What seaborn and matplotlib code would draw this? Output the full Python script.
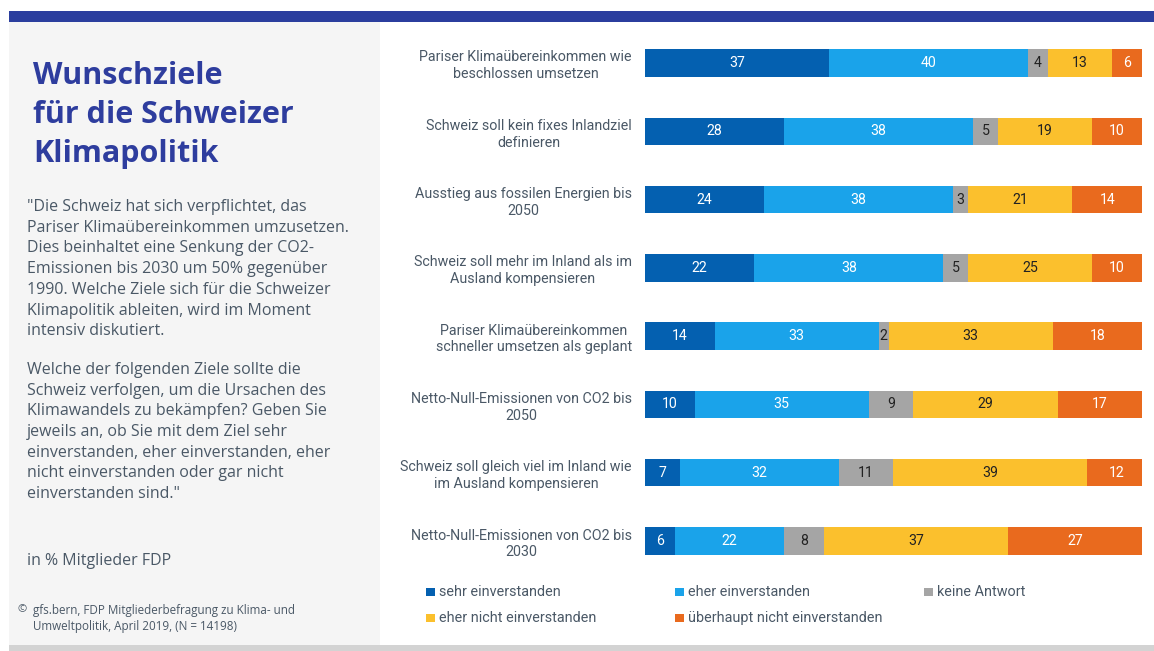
import matplotlib
matplotlib.use("Agg")
import matplotlib.pyplot as plt
from matplotlib.patches import Rectangle
import seaborn as sns
import pandas as pd
import numpy as np

categories = [
    "Pariser Klimaübereinkommen wie\nbeschlossen umsetzen",
    "Schweiz soll kein fixes Inlandziel\ndefinieren",
    "Ausstieg aus fossilen Energien bis\n2050",
    "Schweiz soll mehr im Inland als im\nAusland kompensieren",
    "Pariser Klimaübereinkommen\nschneller umsetzen als geplant",
    "Netto-Null-Emissionen von CO2 bis\n2050",
    "Schweiz soll gleich viel im Inland wie\nim Ausland kompensieren",
    "Netto-Null-Emissionen von CO2 bis\n2030",
]
series_names = ["sehr einverstanden", "eher einverstanden", "keine Antwort",
                "eher nicht einverstanden", "überhaupt nicht einverstanden"]
sehr = [37, 28, 24, 22, 14, 10, 7, 6]
eher = [40, 38, 38, 38, 33, 35, 32, 22]
keine = [4, 5, 3, 5, 2, 9, 11, 8]
eher_nicht = [13, 19, 21, 25, 33, 29, 39, 37]
gar_nicht = [6, 10, 14, 10, 18, 17, 12, 27]

colors = ["#0460B0", "#1AA3EA", "#A5A5A5", "#FBC02D", "#E96A1E"]
label_colors = ["white", "white", "#222222", "#222222", "white"]
text_col = "#4A5866"

sns.set_theme(style="white")
plt.rcParams["font.family"] = ["Roboto", "DejaVu Sans"]

W, H = 1154, 651
fig = plt.figure(figsize=(W / 100, H / 100), dpi=100)
fig.patch.set_facecolor("white")

def px(x, y):
    return x / W, 1 - y / H

# background panels
fig.add_artist(Rectangle(px(9, 645), 371 / W, 623 / H, transform=fig.transFigure,
                         facecolor="#F5F5F5", edgecolor="none", zorder=0))
fig.add_artist(Rectangle(px(9, 22), (W - 9) / W, 11 / H, transform=fig.transFigure,
                         facecolor="#2B3E9E", edgecolor="none", zorder=0))
fig.add_artist(Rectangle(px(9, 651), (W - 9) / W, 6 / H, transform=fig.transFigure,
                         facecolor="#D3D3D3", edgecolor="none", zorder=0))

# axes for bars
top, bot = 28.85, 575.15
ax = fig.add_axes([645 / W, 1 - bot / H, 497 / W, (bot - top) / H])
ax.set_facecolor("none")

data = pd.DataFrame({"cat": categories, series_names[0]: sehr, series_names[1]: eher,
                     series_names[2]: keine, series_names[3]: eher_nicht,
                     series_names[4]: gar_nicht})
cum = data[series_names].cumsum(axis=1)
for i in range(len(series_names) - 1, -1, -1):
    sns.barplot(x=cum[series_names[i]], y=data["cat"], orient="h", color=colors[i],
                saturation=1, width=0.4, ax=ax, linewidth=0)

for r in range(len(categories)):
    left = 0
    for i, s in enumerate(series_names):
        v = data.loc[r, s]
        ax.text(left + v / 2, r, str(v), ha="center", va="center",
                color=label_colors[i], fontsize=10.2)
        left += v

ax.set_xlim(0, 100)
ax.set_ylim(7.5, -0.5)
ax.set_xlabel("")
ax.set_ylabel("")
ax.set_xticks([])
sns.despine(ax=ax, left=True, bottom=True)
ax.tick_params(axis="y", length=0, pad=9.5)
for t in ax.get_yticklabels():
    t.set_multialignment("center")
    t.set_color(text_col)
    t.set_fontsize(10.3)
    t.set_linespacing(1.25)

# legend (manual)
leg_items = [(0, 426, 592), (1, 675, 592), (2, 924, 592), (3, 426, 618), (4, 675, 618)]
for i, x0, y0 in leg_items:
    fig.add_artist(Rectangle(px(x0, y0 + 4), 9 / W, 8 / H, transform=fig.transFigure,
                             facecolor=colors[i], edgecolor="none"))
    fig.text(*px(x0 + 13, y0), series_names[i], ha="left", va="center",
             color=text_col, fontsize=10.4)

# left panel text
sans = ["Open Sans", "DejaVu Sans"]
fig.text(*px(33, 61), "Wunschziele\nfür die Schweizer\nKlimapolitik", ha="left", va="top",
         color="#2E3D9E", fontsize=22, fontweight="bold", family=sans, linespacing=1.4)
para1 = ("\"Die Schweiz hat sich verpflichtet, das\nPariser Klimaübereinkommen umzusetzen.\n"
         "Dies beinhaltet eine Senkung der CO2-\nEmissionen bis 2030 um 50% gegenüber\n"
         "1990. Welche Ziele sich für die Schweizer\nKlimapolitik ableiten, wird im Moment\n"
         "intensiv diskutiert.")
para2 = ("Welche der folgenden Ziele sollte die\nSchweiz verfolgen, um die Ursachen des\n"
         "Klimawandels zu bekämpfen? Geben Sie\njeweils an, ob Sie mit dem Ziel sehr\n"
         "einverstanden, eher einverstanden, eher\nnicht einverstanden oder gar nicht\n"
         "einverstanden sind.\"")
fig.text(*px(27, 199), para1, ha="left", va="top", color=text_col, fontsize=11.5,
         family=sans, linespacing=1.395)
fig.text(*px(27, 362), para2, ha="left", va="top", color=text_col, fontsize=11.5,
         family=sans, linespacing=1.39)
fig.text(*px(27, 561), "in % Mitglieder FDP", ha="left", va="center", color=text_col,
         fontsize=11.5, family=sans)
fig.text(*px(17, 610), "©", ha="left", va="center", color=text_col, fontsize=8, family=sans)
fig.text(*px(33, 604), "gfs.bern, FDP Mitgliederbefragung zu Klima- und\n"
         "Umweltpolitik, April 2019, (N = 14198)", ha="left", va="top", color=text_col,
         fontsize=8.4, family=sans, linespacing=1.3)

fig.savefig("out.png", dpi=100)
